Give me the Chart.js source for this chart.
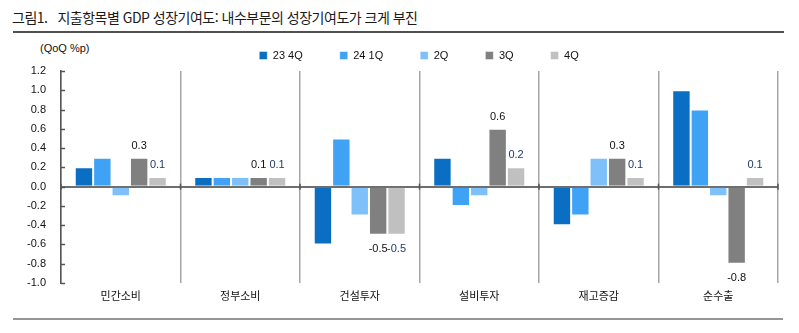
<!DOCTYPE html>
<html lang="ko">
<head>
<meta charset="utf-8">
<script src="https://cdn.jsdelivr.net/npm/chart.js@4.4.1/dist/chart.umd.min.js"></script>
<style>
  body { margin: 0; background: #fff; }
  #wrap { position: relative; width: 799px; height: 333px; overflow: hidden; }
  #title {
    position: absolute; left: 12px; top: 7px; letter-spacing: -0.5px;
    font: 14px "Noto Sans CJK KR", sans-serif; color: #1a1a1a; white-space: pre;
  }
  #title span { margin-right: 10px; }
  .rule { position: absolute; left: 13px; }
  #topRule { top: 31px; width: 771px; height: 2px; background: #505050; }
  #bottomRule { top: 318px; width: 770px; height: 2px; background: #969696; }
  #unit {
    position: absolute; left: 40px; top: 42px;
    font: 11px "Liberation Sans", sans-serif; color: #111;
  }
  canvas { position: absolute; left: 0; top: 0; }
</style>
</head>
<body>
<div id="wrap">
  <div id="title"><span>그림1.</span>지출항목별 GDP 성장기여도: 내수부문의 성장기여도가 크게 부진</div>
  <div id="topRule" class="rule"></div>
  <div id="unit">(QoQ %p)</div>
  <canvas id="chart" width="799" height="333"></canvas>
  <div id="bottomRule" class="rule"></div>
</div>
<script>
const categories = ['민간소비', '정부소비', '건설투자', '설비투자', '재고증감', '순수출'];
const seriesNames = ['23 4Q', '24 1Q', '2Q', '3Q', '4Q'];
const q23_4 = [0.2, 0.1, -0.6, 0.3, -0.4, 1.0];
const q24_1 = [0.3, 0.1, 0.5, -0.2, -0.3, 0.8];
const q24_2 = [-0.1, 0.1, -0.3, -0.1, 0.3, -0.1];
const q24_3 = [0.3, 0.1, -0.5, 0.6, 0.3, -0.8];
const q24_4 = [0.1, 0.1, -0.5, 0.2, 0.1, 0.1];
const yTicks = [1.2, 1.0, 0.8, 0.6, 0.4, 0.2, 0.0, -0.2, -0.4, -0.6, -0.8, -1.0];

const colors = ['#0a6fc2', '#3fa2f4', '#7ec0fa', '#808080', '#c0c0c0'];
const labelColors = [null, null, null, '#111111', '#1f3a6e'];
const numFont = '"Liberation Sans", "Noto Sans CJK KR", sans-serif';

const values = [q23_4, q24_1, q24_2, q24_3, q24_4];
const datasets = values.map((v, i) => ({
  label: seriesNames[i],
  data: v,
  backgroundColor: colors[i],
  borderColor: 'rgba(255,255,255,0.45)',
  borderWidth: 1,
  categoryPercentage: 0.77,
  barPercentage: 1.0,
  showLabel: labelColors[i] !== null,
  labelColor: labelColors[i]
}));

// value labels on the 3Q / 4Q bars, inward y ticks and small ticks on the zero line
const extras = {
  id: 'extras',
  afterLayout(chart) {
    // legend is centred over the plot, not over the whole canvas
    chart.legend.left = 60;
  },
  afterDatasetsDraw(chart) {
    const ctx = chart.ctx;
    const y = chart.scales.y;
    const x = chart.scales.x;
    const area = chart.chartArea;
    ctx.save();
    ctx.strokeStyle = '#555';
    ctx.lineWidth = 1.5;
    yTicks.forEach(t => {
      const py = Math.round(y.getPixelForValue(t)) + 0.5;
      ctx.beginPath();
      ctx.moveTo(area.left, py);
      ctx.lineTo(area.left + 4, py);
      ctx.stroke();
    });
    const zy = y.getPixelForValue(0);
    for (let i = 0; i <= categories.length; i++) {
      const px = x.getPixelForValue(i - 0.5);
      ctx.beginPath();
      ctx.moveTo(px, zy - 3);
      ctx.lineTo(px, zy + 3);
      ctx.stroke();
    }
    ctx.font = '11px ' + numFont;
    ctx.textAlign = 'center';
    ctx.textBaseline = 'middle';
    chart.data.datasets.forEach((ds, di) => {
      if (!ds.showLabel) return;
      ctx.fillStyle = ds.labelColor;
      chart.getDatasetMeta(di).data.forEach((bar, j) => {
        const v = ds.data[j];
        const ty = v >= 0 ? bar.y - 12 : bar.y + 14;
        ctx.fillText(v.toFixed(1), bar.x, ty);
      });
    });
    ctx.restore();
  }
};

new Chart(document.getElementById('chart'), {
  type: 'bar',
  data: { labels: categories, datasets: datasets },
  plugins: [extras],
  options: {
    responsive: false,
    animation: false,
    layout: { padding: { left: 0, right: 21, top: 13, bottom: 0 } },
    plugins: {
      tooltip: { enabled: false },
      legend: {
        position: 'top',
        labels: {
          boxWidth: 8,
          boxHeight: 8,
          padding: 37,
          color: '#111',
          font: { size: 11, family: numFont }
        }
      }
    },
    scales: {
      x: {
        afterFit(scale) { scale.height = 50; },
        border: { display: false },
        grid: {
          offset: true,
          drawTicks: false,
          color: '#a6a6a6',
          lineWidth: 1.5
        },
        ticks: {
          padding: 6,
          color: '#111',
          font: { size: 11, family: '"Noto Sans CJK KR", sans-serif' }
        }
      },
      y: {
        min: -1.0,
        max: 1.2,
        afterFit(scale) { scale.width = 61; },
        afterBuildTicks(scale) { scale.ticks = yTicks.map(v => ({ value: v })); },
        border: { display: true, color: '#555', width: 1.5 },
        grid: {
          drawTicks: false,
          color: c => (c.tick && Math.abs(c.tick.value) < 1e-9 ? '#6e6e6e' : 'rgba(0,0,0,0)'),
          lineWidth: 2
        },
        ticks: {
          padding: 15,
          color: '#111',
          font: { size: 11, family: numFont },
          callback: v => Number(v).toFixed(1)
        }
      }
    }
  }
});
</script>
</body>
</html>
